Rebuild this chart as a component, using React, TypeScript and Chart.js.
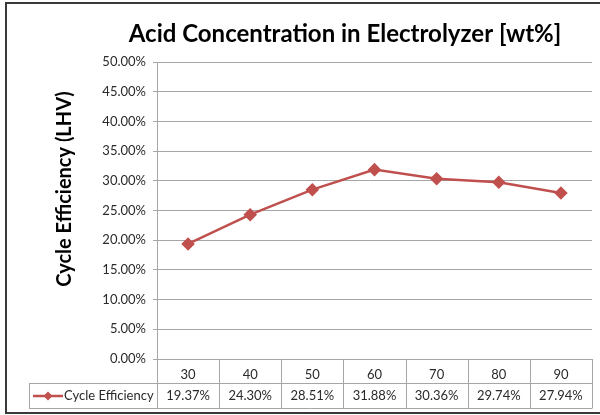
import React, { useEffect, useRef } from "react";
import { Chart, registerables } from "chart.js";

Chart.register(...registerables);

const chartTitle = "Acid Concentration in Electrolyzer [wt%]";
const yAxisTitle = "Cycle Efficiency (LHV)";
const categories = ["30", "40", "50", "60", "70", "80", "90"];
const seriesName = "Cycle Efficiency";
const efficiency = [19.37, 24.3, 28.51, 31.88, 30.36, 29.74, 27.94];
const yMin = 0;
const yMax = 50;
const yStep = 5;

const RED = "#c0504d";
const GRID = "#a6a6a6";
const TEXT = "#2a2a2a";
const TICK_FONT = "Lato";

const fmt = (v: number) => v.toFixed(2) + "%";

const decorPlugin = {
  id: "decor",
  beforeDraw(chart: any) {
    const ctx = chart.ctx;
    ctx.save();
    ctx.fillStyle = "#ffffff";
    ctx.fillRect(0, 0, chart.width, chart.height);
    ctx.restore();
  },
  afterDraw(chart: any) {
    const ctx = chart.ctx;
    const ca = chart.chartArea;
    const xs = chart.scales.x;
    const ds = chart.data.datasets[0];
    const a = (p: number) => Math.round(p) + 0.5;

    const top = ca.bottom;
    const r1 = ca.bottom + 24;
    const r2 = ca.bottom + 49;
    const legLeft = 29;
    const n = chart.data.labels.length;

    ctx.save();
    // outer border
    ctx.strokeStyle = "#3a3a3a";
    ctx.lineWidth = 2;
    ctx.strokeRect(6, 3, 600, 410);

    // title
    ctx.fillStyle = "#000";
    ctx.font = "bold 24px Lato";
    ctx.textAlign = "center";
    ctx.textBaseline = "middle";
    ctx.fillText(chartTitle, 345, 34);

    // y title
    ctx.save();
    ctx.translate(65, 189);
    ctx.rotate(-Math.PI / 2);
    ctx.font = "bold 20px Lato";
    ctx.fillText(yAxisTitle, 0, 0);
    ctx.restore();

    // data table lines
    ctx.strokeStyle = GRID;
    ctx.lineWidth = 1;
    ctx.beginPath();
    ctx.moveTo(ca.left, a(r1));
    ctx.lineTo(ca.right, a(r1));
    ctx.moveTo(legLeft, a(r1));
    ctx.lineTo(ca.left, a(r1));
    ctx.moveTo(legLeft, a(r2));
    ctx.lineTo(ca.right, a(r2));
    ctx.moveTo(a(legLeft), a(r1));
    ctx.lineTo(a(legLeft), a(r2));
    ctx.moveTo(a(ca.left), top);
    ctx.lineTo(a(ca.left), a(r2));
    for (let i = 0; i < n - 1; i++) {
      const bx = (xs.getPixelForValue(i) + xs.getPixelForValue(i + 1)) / 2;
      ctx.moveTo(a(bx), top);
      ctx.lineTo(a(bx), a(r2));
    }
    ctx.moveTo(a(ca.right), top);
    ctx.lineTo(a(ca.right), a(r2));
    ctx.stroke();

    // values row
    const rowMid = (r1 + r2) / 2 + 0.5;
    ctx.fillStyle = TEXT;
    ctx.font = `13px ${TICK_FONT}`;
    ctx.textAlign = "center";
    ctx.textBaseline = "middle";
    (ds.data as number[]).forEach((v, i) => {
      ctx.fillText(fmt(v), xs.getPixelForValue(i), rowMid);
    });

    // legend key
    ctx.strokeStyle = RED;
    ctx.lineWidth = 2.5;
    ctx.beginPath();
    ctx.moveTo(33, rowMid);
    ctx.lineTo(63, rowMid);
    ctx.stroke();
    ctx.fillStyle = RED;
    ctx.beginPath();
    ctx.moveTo(48, rowMid - 4.5);
    ctx.lineTo(52.5, rowMid);
    ctx.lineTo(48, rowMid + 4.5);
    ctx.lineTo(43.5, rowMid);
    ctx.closePath();
    ctx.fill();
    ctx.fillStyle = TEXT;
    ctx.textAlign = "left";
    ctx.fillText(ds.label, 64, rowMid);
    ctx.restore();
  },
};

export default function App() {
  const ref = useRef<HTMLCanvasElement | null>(null);

  useEffect(() => {
    if (!ref.current) return;
    const chart = new Chart(ref.current, {
      type: "line",
      data: {
        labels: categories,
        datasets: [
          {
            label: seriesName,
            data: efficiency,
            borderColor: RED,
            backgroundColor: RED,
            borderWidth: 2.5,
            pointStyle: "rectRot",
            pointRadius: 5,
            pointBackgroundColor: RED,
            pointBorderColor: RED,
            tension: 0,
          },
        ],
      },
      options: {
        responsive: false,
        animation: false,
        devicePixelRatio: 1,
        layout: { padding: { top: 62, right: 8, bottom: 0, left: 0 } },
        plugins: {
          legend: { display: false },
          title: { display: false },
          tooltip: { enabled: false },
        },
        scales: {
          x: {
            type: "category",
            offset: true,
            grid: { display: false },
            border: { display: false },
            ticks: {
              color: TEXT,
              font: { family: TICK_FONT, size: 13 },
              padding: 0,
              maxRotation: 0,
              autoSkip: false,
            },
            afterFit: (s: any) => {
              s.height = 56;
            },
          },
          y: {
            min: yMin,
            max: yMax,
            grid: { color: GRID, lineWidth: 1, tickLength: 4, drawTicks: true },
            border: { display: true, color: GRID, width: 1 },
            ticks: {
              stepSize: yStep,
              color: TEXT,
              font: { family: TICK_FONT, size: 13 },
              padding: 7,
              callback: (v: any) => fmt(Number(v)),
            },
            afterFit: (s: any) => {
              s.width = 157;
            },
          },
        },
      },
      plugins: [decorPlugin],
    });
    return () => chart.destroy();
  }, []);

  return (
    <div style={{ position: "fixed", left: 0, top: 0, width: 600, height: 415 }}>
      <canvas ref={ref} width={600} height={415} style={{ display: "block" }} />
    </div>
  );
}
